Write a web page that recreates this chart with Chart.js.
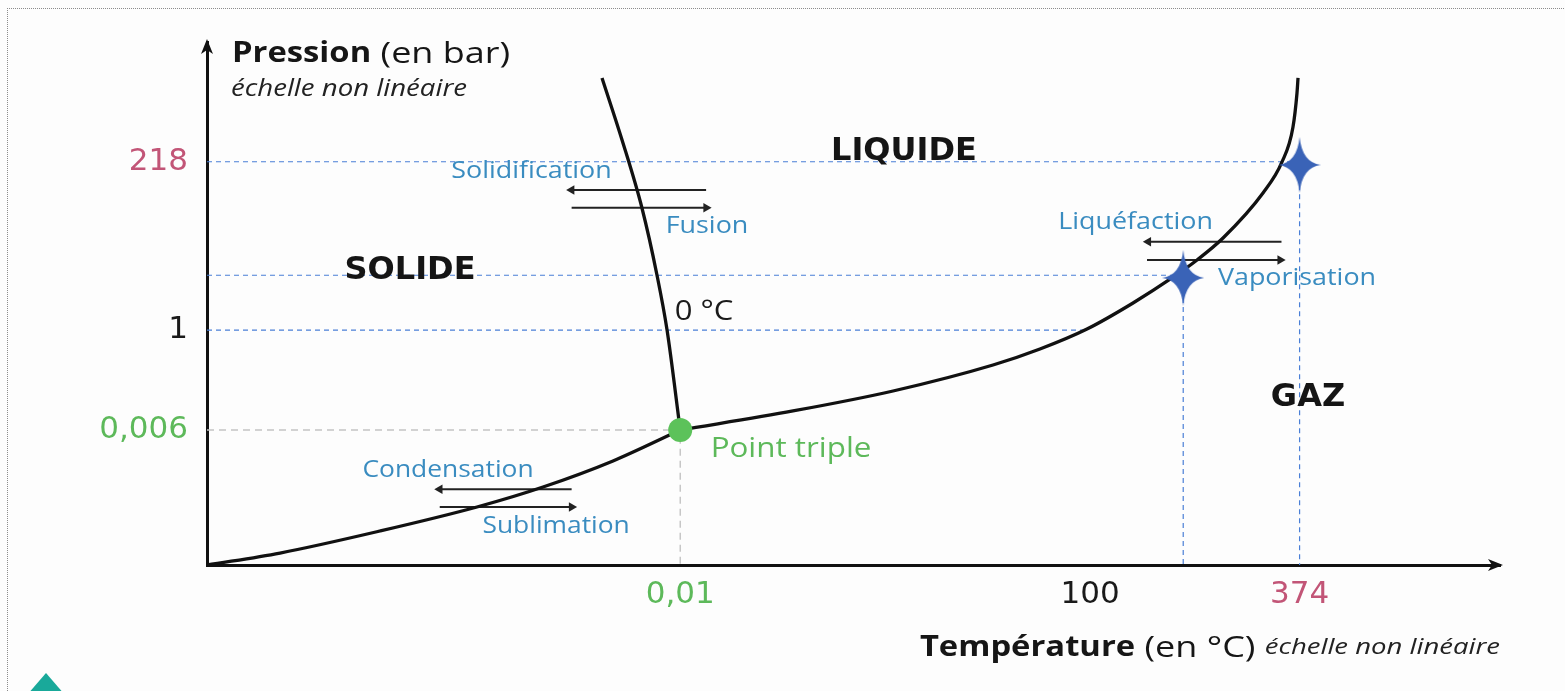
<!DOCTYPE html>
<html><head><meta charset="utf-8">
<script src="https://cdn.jsdelivr.net/npm/chart.js@4"></script>
<style>
html,body{margin:0;padding:0;background:#fdfdfd;}
#wrap{position:relative;width:1565px;height:691px;overflow:hidden;background:#fdfdfd;}
#frame{position:absolute;left:7px;top:8px;width:1600px;height:700px;border-left:1px dotted #8c8c8c;border-top:1px dotted #8c8c8c;}
#mark{position:absolute;left:27px;top:673px;width:38px;height:22px;background:#19a99a;clip-path:polygon(50% 0,100% 100%,0 100%);}
#box{position:absolute;left:0;top:0;width:1565px;height:691px;}
</style></head><body>
<div id="wrap"><div id="frame"></div><div id="mark"></div><div id="box"><canvas id="c"></canvas></div></div>
<script>
// ---- Tick labels (non-linear schematic axes: positions in schematic units 0..100) ----
const tempTickPos    = [36.6, 68.3, 84.5];
const tempTickLabels = ['0,01', '100', '374'];
const tempTickColors = ['#5db95a', '#1a1a1a', '#c25577'];
const presTickPos    = [25.8, 44.9, 77.1];
const presTickLabels = ['0,006', '1', '218'];
const presTickColors = ['#5db95a', '#1a1a1a', '#c25577'];

// ---- Curves (schematic units) ----
const sublimationX = [0, 5.65, 13.38, 20.88, 25.99, 31.40, 36.6];
const sublimationY = [0, 2.29, 6.50, 11.09, 14.91, 19.89, 25.8];
const fusionX = [36.6, 35.58, 34.80, 33.64, 32.10, 30.55];
const fusionY = [25.8, 44.93, 55.45, 68.26, 81.26, 93.12];
const vaporisationX = [36.6, 45.32, 53.06, 60.79, 64.42, 68.06, 71.62, 74.63, 76.57, 78.58, 81.67, 83.14, 83.99, 84.30, 84.38];
const vaporisationY = [25.8, 29.45, 33.27, 38.24, 41.30, 45.12, 50.10, 54.88, 58.32, 62.52, 71.13, 77.06, 83.75, 90.25, 93.12];

// ---- Special points ----
const tripleX = [36.6];
const tripleY = [25.8];
const starsX = [75.5, 84.5];
const starsY = [54.9, 76.5];

// ---- Reference (dashed) lines ----
const refBlueX = [[0, 84.5, 84.5], [0, 75.5, 75.5], [0, 68.2]];
const refBlueY = [[77.1, 77.1, 0], [55.4, 55.4, 0], [44.9, 44.9]];
const refGreyX = [0, 36.6, 36.6];
const refGreyY = [25.8, 25.8, 0];

// ---- Transition arrows ----
const arrowY   = [71.7, 68.3, 14.5, 11.1, 61.8, 58.3];
const arrowX0  = [28.2, 28.2, 18.0, 18.0, 72.8, 72.7];
const arrowX1  = [38.6, 38.6, 28.2, 28.2, 83.1, 83.0];
const arrowDir = [-1, 1, -1, 1, -1, 1];

const pts = (xs, ys) => xs.map((x, i) => ({x, y: ys[i]}));

function makeStar(w, h, color) {
  const c = document.createElement('canvas'); c.width = w; c.height = h;
  const g = c.getContext('2d'); const cx = w / 2, cy = h / 2, k = 2.5;
  g.fillStyle = color; g.beginPath();
  g.moveTo(cx, 0);
  g.quadraticCurveTo(cx + k, cy - k, w, cy);
  g.quadraticCurveTo(cx + k, cy + k, cx, h);
  g.quadraticCurveTo(cx - k, cy + k, 0, cy);
  g.quadraticCurveTo(cx - k, cy - k, cx, 0);
  g.closePath(); g.fill();
  return c;
}
const starImg = makeStar(42, 56, '#3a63b7');

const datasets = [];
datasets.push({data: pts(starsX, starsY), showLine: false, pointStyle: starImg, pointRadius: 10, order: 0});
datasets.push({data: pts(tripleX, tripleY), showLine: false, pointStyle: 'circle', pointRadius: 12,
  pointBackgroundColor: '#5cc25a', pointBorderWidth: 0, order: 1});
[[sublimationX, sublimationY], [fusionX, fusionY], [vaporisationX, vaporisationY]].forEach(([xs, ys]) => {
  datasets.push({data: pts(xs, ys), showLine: true, borderColor: '#111', borderWidth: 3.3, pointRadius: 0,
    cubicInterpolationMode: 'monotone', fill: false, order: 2});
});
arrowY.forEach((yv, i) => {
  const right = arrowDir[i] > 0;
  datasets.push({data: [{x: arrowX0[i], y: yv}, {x: arrowX1[i], y: yv}], showLine: true,
    borderColor: '#222', borderWidth: 2, pointStyle: 'triangle',
    pointRadius: right ? [0, 5.5] : [5.5, 0], pointRotation: right ? 90 : -90,
    pointBackgroundColor: '#222', pointBorderColor: '#222', pointBorderWidth: 0, order: 3});
});
refBlueX.forEach((xs, i) => {
  datasets.push({data: pts(xs, refBlueY[i]), showLine: true, borderColor: '#4a7fd6', borderWidth: 1.2,
    borderDash: [5, 4], pointRadius: 0, tension: 0, order: 5});
});
datasets.push({data: pts(refGreyX, refGreyY), showLine: true, borderColor: '#c4c4c4', borderWidth: 1.4,
  borderDash: [7, 5], pointRadius: 0, tension: 0, order: 5});

// ---- Annotation texts (positions in schematic units) ----
const OS = '"Open Sans"', BLUE = '#3a8cc0', PH = 'bold 32px "DejaVu Sans"';
const notes = [
  {x: 53.9, y: 79.0, t: 'LIQUIDE', font: PH, color: '#151515', s: 1},
  {x: 15.7, y: 56.2, t: 'SOLIDE', font: PH, color: '#151515', s: 1},
  {x: 85.15, y: 31.9, t: 'GAZ', font: PH, color: '#151515', s: 1},
  {x: 25.1, y: 75.3, t: 'Solidification', font: '24px ' + OS, color: BLUE, s: 1.12},
  {x: 38.67, y: 64.8, t: 'Fusion', font: '24px ' + OS, color: BLUE, s: 1.12},
  {x: 38.44, y: 48.4, t: '0 °C', font: '27px ' + OS, color: '#1a1a1a', s: 1.15},
  {x: 45.17, y: 22.2, t: 'Point triple', font: '28px ' + OS, color: '#5db95a', s: 1.12},
  {x: 18.64, y: 18.2, t: 'Condensation', font: '24px ' + OS, color: BLUE, s: 1.1},
  {x: 27.0, y: 7.5, t: 'Sublimation', font: '24px ' + OS, color: BLUE, s: 1.1},
  {x: 77.8, y: 65.6, t: 'Liquéfaction', font: '24px ' + OS, color: BLUE, s: 1.12, align: 'right'},
  {x: 84.3, y: 54.8, t: 'Vaporisation', font: '24px ' + OS, color: BLUE, s: 1.12},
];

// parts: [{text, font, color, s}] – s = horizontal stretch of each part
function drawRich(ctx, parts, x, y, align) {
  ctx.save();
  ctx.textBaseline = 'middle'; ctx.textAlign = 'left';
  const widths = parts.map(p => { ctx.font = p.font; return ctx.measureText(p.text).width * p.s; });
  const total = widths.reduce((a, b) => a + b, 0);
  let cx = align === 'center' ? x - total / 2 : align === 'right' ? x - total : x;
  parts.forEach((p, i) => {
    ctx.save(); ctx.translate(cx, y); ctx.scale(p.s, 1);
    ctx.font = p.font; ctx.fillStyle = p.color; ctx.fillText(p.text, 0, 0);
    ctx.restore(); cx += widths[i];
  });
  ctx.restore();
}

const overlay = {
  id: 'overlay',
  afterDraw(chart) {
    const {ctx, chartArea: a, scales: {x, y}} = chart;
    ctx.save();
    ctx.fillStyle = '#111';
    ctx.beginPath();
    ctx.moveTo(a.left, a.top - 3); ctx.lineTo(a.left - 6, a.top + 12); ctx.lineTo(a.left, a.top + 8);
    ctx.lineTo(a.left + 6, a.top + 12); ctx.closePath(); ctx.fill();
    ctx.beginPath();
    ctx.moveTo(a.right + 3, a.bottom); ctx.lineTo(a.right - 12, a.bottom - 6); ctx.lineTo(a.right - 8, a.bottom);
    ctx.lineTo(a.right - 12, a.bottom + 6); ctx.closePath(); ctx.fill();
    ctx.restore();

    notes.forEach(n => drawRich(ctx, [{text: n.t, font: n.font, color: n.color, s: n.s}],
      x.getPixelForValue(n.x), y.getPixelForValue(n.y), n.align || 'center'));

    drawRich(ctx, [
      {text: 'Pression', font: 'bold 28px ' + OS, color: '#161616', s: 1.17},
      {text: ' (en bar)', font: '30px ' + OS, color: '#161616', s: 1.2}
    ], a.left + 25, a.top + 12, 'left');
    drawRich(ctx, [{text: 'échelle non linéaire', font: 'italic 23px ' + OS, color: '#222', s: 1.2}],
      a.left + 24, a.top + 47, 'left');
    drawRich(ctx, [
      {text: 'Température', font: 'bold 28px ' + OS, color: '#161616', s: 1.17},
      {text: ' (en °C) ', font: '30px ' + OS, color: '#161616', s: 1.2},
      {text: 'échelle non linéaire', font: 'italic 22px ' + OS, color: '#222', s: 1.25}
    ], a.right, a.bottom + 83, 'right');
  }
};

const tickFont = {family: 'DejaVu Sans', size: 31};
new Chart(document.getElementById('c'), {
  type: 'scatter',
  data: {datasets},
  options: {
    responsive: true, maintainAspectRatio: false, animation: false,
    layout: {padding: {left: 0, top: 42, right: 65, bottom: 0}},
    plugins: {legend: {display: false}, tooltip: {enabled: false}},
    events: [],
    scales: {
      x: {
        type: 'linear', min: 0, max: 100,
        afterBuildTicks: s => { s.ticks = tempTickPos.map(v => ({value: v})); },
        afterFit: s => { s.height = 126; },
        ticks: {autoSkip: false, maxRotation: 0, padding: 11, font: tickFont,
          color: c => tempTickColors[c.index], callback: (v, i) => tempTickLabels[i]},
        grid: {display: false, drawTicks: false},
        border: {display: true, color: '#111', width: 3}
      },
      y: {
        type: 'linear', min: 0, max: 100,
        afterBuildTicks: s => { s.ticks = presTickPos.map(v => ({value: v})); },
        afterFit: s => { s.width = 207; },
        ticks: {autoSkip: false, padding: 19, font: tickFont,
          color: c => presTickColors[c.index], callback: (v, i) => presTickLabels[i]},
        grid: {display: false, drawTicks: false},
        border: {display: true, color: '#111', width: 3}
      }
    }
  },
  plugins: [overlay]
});
</script>
</body></html>
